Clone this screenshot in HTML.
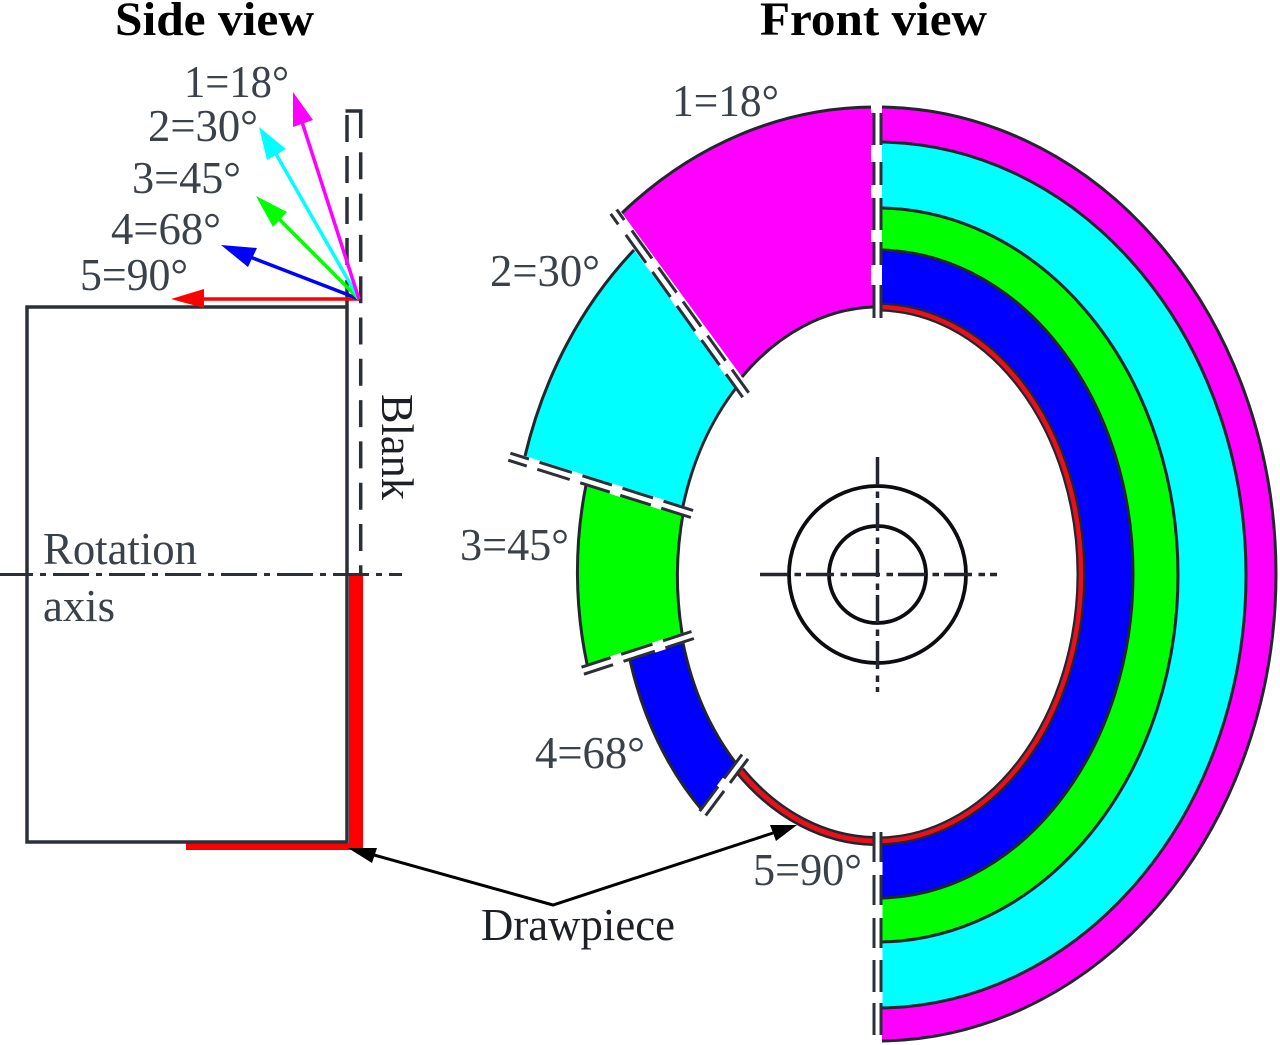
<!DOCTYPE html>
<html><head><meta charset="utf-8"><style>
html,body{margin:0;padding:0;background:#fff;}
svg{display:block;}
text{font-family:"Liberation Serif",serif;font-size:46px;fill:#3a4149;}
.b{font-weight:bold;fill:#000;font-size:48px;}
.k{fill:#1c1f24;}
.o{stroke:#22262e;stroke-width:3;fill:none;}
.a{stroke:#22262e;stroke-width:3;fill:none;}
.d{stroke:#2b3038;stroke-width:3.5;fill:none;}
.l{stroke:#2b3038;stroke-width:3;fill:none;}
.s{stroke:#fff;stroke-width:5;fill:none;}
.g{stroke:#fff;stroke-width:10.5;fill:none;}
</style></head><body>
<svg width="1280" height="1045" viewBox="0 0 1280 1045" xmlns="http://www.w3.org/2000/svg">
<defs><clipPath id="r"><rect x="882" y="0" width="398" height="1045"/></clipPath></defs>

<!-- right half -->
<g clip-path="url(#r)" class="o">
<ellipse cx="877" cy="574" rx="399" ry="467" fill="#f0f"/>
<ellipse cx="877" cy="575" rx="369" ry="433" fill="#0ff"/>
<ellipse cx="877" cy="575" rx="301" ry="367" fill="#0f0"/>
<ellipse cx="877" cy="574" rx="256" ry="324" fill="#00f"/>
<ellipse cx="877" cy="574" rx="204" ry="267" fill="#fff" stroke="#22262e" stroke-width="9"/>
<ellipse cx="877" cy="574" rx="204" ry="267" fill="none" stroke="#e8101a" stroke-width="4.5"/>
</g>

<!-- left sector fills -->
<path fill="#f0f" d="M873,107 A399 467 0 0 0 622,213 L742,377 A203 267 0 0 1 873,307 Z"/>
<path fill="#0ff" d="M634,250 A369 433 0 0 0 525,456 L683,506 A203 267 0 0 1 736,388 L640,258 Z"/>
<path fill="#0f0" d="M586,485 A300 367 0 0 0 587,664 L682,633 A200 267 0 0 1 683,514 Z"/>
<path fill="#00f" d="M630,660 A256 324 0 0 0 702,810 L735,762 A203 267 0 0 1 683,643 Z"/>

<!-- left sector arcs -->
<path class="a" d="M873,107 A399 467 0 0 0 622,213"/>
<path class="a" d="M742,377 A203 267 0 0 1 873,307"/>
<path class="a" d="M634,250 A369 433 0 0 0 525,456"/>
<path class="a" d="M683,506 A203 267 0 0 1 736,388"/>
<path class="a" d="M586,485 A300 367 0 0 0 587,664"/>
<path class="a" d="M682,633 A200 267 0 0 1 683,514"/>
<path class="a" d="M630,660 A256 324 0 0 0 702,810"/>
<path class="a" d="M735,762 A203 267 0 0 1 683,643"/>

<!-- left red arc -->
<path d="M740,771 A203 267 0 0 0 874,841" fill="none" stroke="#22262e" stroke-width="10"/>
<path d="M740,771 A203 267 0 0 0 874,841" fill="none" stroke="#e8101a" stroke-width="5"/>

<!-- vertical boundary top -->
<rect x="875" y="104" width="6" height="214" fill="#fff"/>
<path fill="#fff" d="M871,104h11v9h-11zM871,145h11v17h-11zM871,185h11v13h-11zM871,230h11v12h-11zM871,265h11v20h-11z"/>
<path class="l" d="M874,113V145M874,162V185M874,198V230M874,242V265M874,285V318"/>
<path class="l" d="M881,113V145M881,162V185M881,198V230M881,242V265M881,285V318"/>

<!-- vertical boundary bottom -->
<rect x="875" y="846" width="7" height="195" fill="#fff"/>
<path fill="#fff" d="M871,862h11.5v13h-11.5zM871,905h11.5v13h-11.5zM871,948h11.5v12h-11.5zM871,992h11.5v11h-11.5z"/>
<path class="l" d="M874,832V862M874,875V905M874,918V948M874,960V992M874,1003V1035"/>
<path class="l" d="M881,832V862M881,875V905M881,918V948M881,960V992M881,1003V1035"/>

<!-- boundary 1 -->
<line class="s" x1="745.7" y1="395" x2="613.7" y2="211.7"/>
<line class="g" x1="745.7" y1="395" x2="613.7" y2="211.7" stroke-dasharray="0 28.5 11 31 11 31 11 31 11 34.5 13 14"/>
<line class="l" x1="748.7" y1="392.8" x2="616.7" y2="209.5" stroke-dasharray="28.5 11 31 11 31 11 31 11 34.5 13 14"/>
<line class="l" x1="742.7" y1="397.2" x2="610.7" y2="213.9" stroke-dasharray="28.5 11 31 11 31 11 31 11 34.5 13 14"/>

<!-- boundary 2 -->
<line class="s" x1="692" y1="514" x2="509.3" y2="456.7"/>
<line class="g" x1="692" y1="514" x2="509.3" y2="456.7" stroke-dasharray="0 31 11 32 11 31 11 34 11 20"/>
<line class="l" x1="693.1" y1="510.5" x2="510.4" y2="453.2" stroke-dasharray="31 11 32 11 31 11 34 11 20"/>
<line class="l" x1="690.9" y1="517.5" x2="508.2" y2="460.2" stroke-dasharray="31 11 32 11 31 11 34 11 20"/>

<!-- boundary 3 -->
<line class="s" x1="692.7" y1="635" x2="582.7" y2="670.7"/>
<line class="g" x1="692.7" y1="635" x2="582.7" y2="670.7" stroke-dasharray="0 30 11 33 11 31"/>
<line class="l" x1="693.9" y1="638.5" x2="583.9" y2="674.2" stroke-dasharray="30 11 33 11 31"/>
<line class="l" x1="691.5" y1="631.5" x2="581.5" y2="667.2" stroke-dasharray="30 11 33 11 31"/>

<!-- boundary 4 -->
<line class="s" x1="745" y1="756.7" x2="702.7" y2="813.3"/>
<line class="g" x1="745" y1="756.7" x2="702.7" y2="813.3" stroke-dasharray="0 30 10 31"/>
<line class="l" x1="748" y1="758.9" x2="705.7" y2="815.5" stroke-dasharray="30 10 31"/>
<line class="l" x1="742" y1="754.5" x2="699.7" y2="811.1" stroke-dasharray="30 10 31"/>

<!-- centre circles -->
<g fill="none" stroke="#0c0d10" stroke-width="3.8">
<circle cx="877.5" cy="574.5" r="88.5"/>
<circle cx="877.5" cy="574.5" r="48.5"/>
</g>
<g stroke="#23262d" stroke-width="3.5" fill="none">
<line x1="760" y1="574.5" x2="997" y2="574.5" stroke-dasharray="28 6.5 6.5 5"/>
<line x1="877.5" y1="457" x2="877.5" y2="692" stroke-dasharray="28 6.5 6.5 5"/>
</g>

<!-- side view -->
<rect x="349" y="576" width="14" height="274" fill="#f00"/>
<rect x="186" y="843" width="177" height="7" fill="#f00"/>
<path d="M347,307 H27 V842 H347" class="d"/>
<line x1="347" y1="280" x2="347" y2="843" class="d"/>
<path d="M347,115 V265" class="d" stroke-dasharray="27 14"/>
<path d="M360.7,111 V575" class="d" stroke-dasharray="27 14.3"/>
<path d="M345.5,111 H362.5" class="d"/>
<line x1="0" y1="574.5" x2="402" y2="574.5" stroke="#2b3038" stroke-width="3" stroke-dasharray="33 7 6 7 36 7 6 7 36 7 6 7 36 7 6 7 36 7 6 7 36 7 6 7 36 7 6 7 36 7 6 7"/>

<!-- direction arrows -->
<g fill="none" stroke-width="3.5">
<line x1="359" y1="299" x2="198" y2="299" stroke="#f00"/>
<line x1="359" y1="299" x2="250" y2="257" stroke="#00f"/>
<line x1="359" y1="299" x2="278" y2="218" stroke="#0f0"/>
<line x1="359" y1="299" x2="276" y2="154" stroke="#0ff"/>
<line x1="359" y1="299" x2="302" y2="122" stroke="#f0f"/>
</g>
<polygon fill="#f0f" points="293,92 313,120 293,127"/>
<polygon fill="#0ff" points="259,127 286,149 267,160"/>
<polygon fill="#0f0" points="256,196 287,212 273,227"/>
<polygon fill="#00f" points="221,245 257,248 248,267"/>
<polygon fill="#f00" points="171,299 204,289 204,308"/>

<!-- drawpiece arrows -->
<path d="M374,855 L553,905 L773,833" fill="none" stroke="#000" stroke-width="3"/>
<polygon fill="#000" points="348,848 377,848 372,863"/>
<polygon fill="#000" points="797,825 770,825 776,841"/>

<!-- text -->
<text class="b" x="115" y="35" textLength="199" lengthAdjust="spacingAndGlyphs">Side view</text>
<text class="b" x="760" y="35" textLength="227" lengthAdjust="spacingAndGlyphs">Front view</text>

<text x="184" y="97" textLength="105" lengthAdjust="spacingAndGlyphs">1=18°</text>
<text x="148" y="141" textLength="110" lengthAdjust="spacingAndGlyphs">2=30°</text>
<text x="132" y="193" textLength="109" lengthAdjust="spacingAndGlyphs">3=45°</text>
<text x="111" y="244" textLength="110" lengthAdjust="spacingAndGlyphs">4=68°</text>
<text x="80" y="290" textLength="108" lengthAdjust="spacingAndGlyphs">5=90°</text>

<text x="672" y="116" textLength="107" lengthAdjust="spacingAndGlyphs">1=18°</text>
<text x="490" y="286" textLength="110" lengthAdjust="spacingAndGlyphs">2=30°</text>
<text x="460" y="560" textLength="109" lengthAdjust="spacingAndGlyphs">3=45°</text>
<text x="535" y="768" textLength="110" lengthAdjust="spacingAndGlyphs">4=68°</text>
<text x="753" y="885" textLength="109" lengthAdjust="spacingAndGlyphs">5=90°</text>

<text x="43" y="564" textLength="154" lengthAdjust="spacingAndGlyphs">Rotation</text>
<text x="43" y="621" textLength="72" lengthAdjust="spacingAndGlyphs">axis</text>
<text class="k" x="481" y="940" textLength="194" lengthAdjust="spacingAndGlyphs">Drawpiece</text>
<text class="k" transform="translate(382,394) rotate(90)" x="0" y="0" textLength="106" lengthAdjust="spacingAndGlyphs">Blank</text>
</svg>
</body></html>
